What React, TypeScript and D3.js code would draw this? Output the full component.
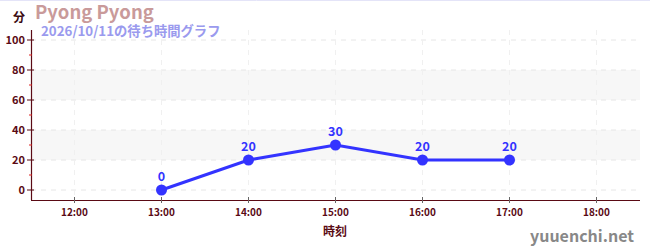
import React from "react";
import * as d3 from "d3";

const title = "Pyong Pyong";
const subtitle = "2026/10/11の待ち時間グラフ";
const hours = [13, 14, 15, 16, 17];
const waits = [0, 20, 30, 20, 20];
const xTickHours = [12, 13, 14, 15, 16, 17, 18];
const yTicks = [0, 20, 40, 60, 80, 100];
const yMinorTicks = [10, 30, 50, 70, 90];
const bands = [[20, 40], [60, 80]];

const W = 650, H = 250;
const FONT = "'Noto Sans CJK JP', 'Noto Sans', sans-serif";

export default function App() {
  const left = 31, right = 640, top = 30, bottom = 200;
  const x = d3.scaleLinear().domain([11.5, 18.5]).range([left, right]);
  const y = d3.scaleLinear().domain([-20 / 3, 320 / 3]).range([bottom, top]);
  const line = d3.line<number>().x((_, i) => x(hours[i])).y((d) => y(d));
  const fmt = (h: number) => `${h}:00`;
  const axisColor = "#5a0a14";
  return (
    <svg width={W} height={H} style={{ position: "absolute", left: 0, top: 0, fontFamily: FONT }}>
      <rect x={0} y={0} width={W} height={H} fill="#fff" />
      <line x1={0} x2={W} y1={0.5} y2={0.5} stroke="#e4e4f8" />
      {bands.map(([a, b], i) => (
        <rect key={i} x={left} width={right - left} y={y(b)} height={y(a) - y(b)} fill="#f7f7f7" />
      ))}
      {yTicks.map((t) => (
        <line key={t} x1={left} x2={right} y1={y(t)} y2={y(t)} stroke="#e6e6e6" strokeDasharray="5,5" />
      ))}
      {xTickHours.map((h) => (
        <line key={h} x1={x(h)} x2={x(h)} y1={top} y2={bottom} stroke="#f0f0f0" strokeDasharray="5,5" />
      ))}
      {/* axes */}
      <line x1={left + 0.5} x2={left + 0.5} y1={top} y2={bottom} stroke={axisColor} strokeWidth={1.2} />
      <line x1={left} x2={right} y1={bottom + 0.5} y2={bottom + 0.5} stroke={axisColor} strokeWidth={1.2} />
      {yTicks.map((t) => (
        <g key={t}>
          <line x1={left - 4} x2={left + 3} y1={y(t)} y2={y(t)} stroke={axisColor} />
          <text x={left - 6} y={y(t) + 4} textAnchor="end" fontSize={11} fontWeight="bold" fill={axisColor}>{t}</text>
        </g>
      ))}
      {yMinorTicks.map((t) => (
        <line key={t} x1={left - 2} x2={left + 1} y1={y(t)} y2={y(t)} stroke="#d22" />
      ))}
      {xTickHours.map((h) => (
        <g key={h}>
          <line x1={x(h)} x2={x(h)} y1={bottom - 3} y2={bottom + 3} stroke="#666" />
          <text x={x(h)} y={bottom + 16} textAnchor="middle" fontSize={10} fontWeight="bold" fill={axisColor}>{fmt(h)}</text>
        </g>
      ))}
      {/* series */}
      <path d={line(waits) || ""} fill="none" stroke="#3333ff" strokeWidth={3} />
      {waits.map((v, i) => (
        <g key={i}>
          <circle cx={x(hours[i])} cy={y(v)} r={5.5} fill="#3333ff" />
          <text x={x(hours[i])} y={y(v) - 9} textAnchor="middle" fontSize={12.5} fontWeight="bold" fill="#3333ff">{v}</text>
        </g>
      ))}
      {/* labels */}
      <text x={13} y={22} fontSize={12} fontWeight="bold" fill="#3a0a10">分</text>
      <text x={35} y={19} fontSize={18.5} fontWeight="bold" fill="#c99a9a">{title}</text>
      <text x={41} y={36} fontSize={13.3} fontWeight="bold" fill="#9a9aee">{subtitle}</text>
      <text x={335} y={236} textAnchor="middle" fontSize={12} fontWeight="bold" fill={axisColor}>時刻</text>
      <text x={634} y={242} textAnchor="end" fontSize={16} fontWeight="bold" fill="#888">yuuenchi.net</text>
    </svg>
  );
}
